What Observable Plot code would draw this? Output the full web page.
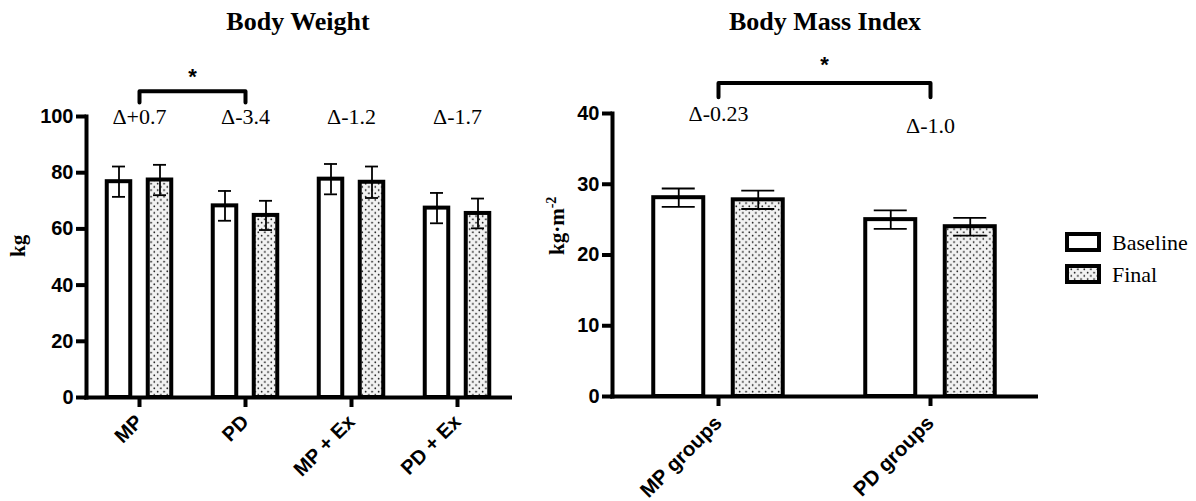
<!DOCTYPE html>
<html><head><meta charset="utf-8">
<script src="https://cdn.jsdelivr.net/npm/d3@7"></script>
<script src="https://cdn.jsdelivr.net/npm/@observablehq/plot@0.6"></script>
<style>
body{margin:0;background:#fff;}
#wrap{position:relative;width:1196px;height:501px;overflow:hidden;background:#fff;}
.panel{position:absolute;top:0;}
.title{position:absolute;font-family:"Liberation Serif","Times New Roman",serif;font-weight:bold;font-size:26px;transform:translateX(-50%);white-space:nowrap;line-height:1;}
.legend{position:absolute;left:1060px;top:226px;}
</style></head><body>
<svg width="0" height="0" style="position:absolute">
  <defs>
    <pattern id="dots" width="6.5" height="6.5" patternUnits="userSpaceOnUse">
      <rect width="6.5" height="6.5" fill="#f2f2f2"/>
      <circle cx="1.6" cy="1.6" r="0.85" fill="#111"/>
      <circle cx="4.85" cy="4.85" r="0.85" fill="#111"/>
    </pattern>
  </defs>
</svg>
<div id="wrap"></div>
<script>
// ---- Body Weight data ----
const bwGroups = ["MP", "PD", "MP + Ex", "PD + Ex"];
const bwBaseline = [76.8, 68.2, 77.7, 67.4];
const bwBaselineErr = [5.4, 5.3, 5.4, 5.4];
const bwFinal = [77.4, 64.8, 76.6, 65.5];
const bwFinalErr = [5.4, 5.2, 5.6, 5.3];
const bwDeltas = ["\u0394+0.7", "\u0394-3.4", "\u0394-1.2", "\u0394-1.7"];
const bwDeltaY = [100, 100, 100, 100];
const bwTicks = [0, 20, 40, 60, 80, 100];
const bwSig = ["MP", "PD"];
const bwSigY = [105, 109, 114];   // bracket leg end, bracket bar, asterisk

// ---- Body Mass Index data ----
const bmiGroups = ["MP groups", "PD groups"];
const bmiBaseline = [28.1, 25.0];
const bmiBaselineErr = [1.3, 1.3];
const bmiFinal = [27.8, 24.0];
const bmiFinalErr = [1.3, 1.25];
const bmiDeltas = ["\u0394-0.23", "\u0394-1.0"];
const bmiDeltaY = [40, 38.3];
const bmiTicks = [0, 10, 20, 30, 40];
const bmiSig = ["MP groups", "PD groups"];
const bmiSigY = [42.3, 44.3, 46.9];

const seriesNames = ["Baseline", "Final"];

const serif = "'Liberation Serif','Times New Roman',serif";
const sans = "'Liberation Sans',Arial,Helvetica,sans-serif";
const SW = 4;

function panel(o) {
  const n = o.groups.length;
  const bw = (o.width - o.marginLeft - o.marginRight) / n;
  const out = (bw - 2 * o.barW - o.gap) / 2;
  const dxB = out + o.barW / 2 - bw / 2;
  const dxF = -dxB;
  const rows = o.groups.map((g, i) => ({
    g, b: o.baseline[i], be: o.baselineErr[i], f: o.final[i], fe: o.finalErr[i],
    d: o.deltas[i], dy: o.deltaY[i]
  }));
  const [s0, s1] = o.sig;
  const br = [
    {g: s0, y: o.sigY[0]}, {g: s0, y: o.sigY[1]},
    {g: s1, y: o.sigY[1]}, {g: s1, y: o.sigY[0]}
  ];
  const span = (o.groups.indexOf(s1) - o.groups.indexOf(s0)) * bw;
  const capIn = (center, w) => ({insetLeft: center - w / 2, insetRight: bw - center - w / 2});
  const cB = out + o.barW / 2, cF = bw - cB;

  return Plot.plot({
    width: o.width, height: 501,
    marginLeft: o.marginLeft, marginRight: o.marginRight,
    marginTop: o.marginTop, marginBottom: o.marginBottom,
    style: {background: "transparent", overflow: "visible"},
    x: {domain: o.groups, padding: 0, axis: null},
    y: {domain: o.yDomain, nice: false, axis: null},
    marks: [
      Plot.barY(rows, {x: "g", y: "b", fill: "white", stroke: "black", strokeWidth: SW,
        insetLeft: out, insetRight: bw - out - o.barW}),
      Plot.barY(rows, {x: "g", y: "f", fill: "url(#dots)", stroke: "black", strokeWidth: SW,
        insetLeft: out + o.barW + o.gap, insetRight: out}),
      Plot.ruleX(rows, {x: "g", y1: d => d.b - d.be, y2: d => d.b + d.be, dx: dxB, strokeWidth: 1.8}),
      Plot.ruleX(rows, {x: "g", y1: d => d.f - d.fe, y2: d => d.f + d.fe, dx: dxF, strokeWidth: 1.8}),
      Plot.tickY(rows, {x: "g", y: d => d.b + d.be, strokeWidth: 1.8, ...capIn(cB, o.capW)}),
      Plot.tickY(rows, {x: "g", y: d => d.b - d.be, strokeWidth: 1.8, ...capIn(cB, o.capW)}),
      Plot.tickY(rows, {x: "g", y: d => d.f + d.fe, strokeWidth: 1.8, ...capIn(cF, o.capW)}),
      Plot.tickY(rows, {x: "g", y: d => d.f - d.fe, strokeWidth: 1.8, ...capIn(cF, o.capW)}),
      Plot.ruleY([o.yDomain[0]], {strokeWidth: SW, strokeLinecap: "square"}),
      Plot.frame({anchor: "left", strokeWidth: SW}),
      Plot.axisY({ticks: o.yTicks, tickSize: 10, tickPadding: 3, strokeWidth: SW,
        fontSize: 20, fontWeight: "bold", fontFamily: sans, label: null, tickFormat: d => String(d)}),
      Plot.axisX({tickSize: 10, tickPadding: o.xPad, tickRotate: -45, strokeWidth: SW,
        fontSize: o.xFont, fontWeight: "bold", fontFamily: sans, label: null}),
      Plot.text(rows, {x: "g", y: "dy", text: "d", fontFamily: serif, fontSize: 22}),
      Plot.line(br, {x: "g", y: "y", stroke: "black", strokeWidth: SW, curve: "linear"}),
      Plot.text([{g: s0, y: o.sigY[2]}], {x: "g", y: "y", text: () => "*", dx: span / 2,
        fontFamily: sans, fontWeight: "bold", fontSize: 22}),
      Plot.text([o.yLabel], {frameAnchor: "left", dx: -o.labelOffset, rotate: -90,
        fontFamily: serif, fontWeight: "bold", fontSize: 21})
    ]
  });
}

const wrap = document.getElementById("wrap");

const left = panel({
  groups: bwGroups, baseline: bwBaseline, baselineErr: bwBaselineErr,
  final: bwFinal, finalErr: bwFinalErr, deltas: bwDeltas, deltaY: bwDeltaY,
  yDomain: [0, 100], yTicks: bwTicks, yLabel: "kg", sig: bwSig, sigY: bwSigY,
  width: 530, marginLeft: 86, marginRight: 20, marginTop: 116, marginBottom: 104,
  barW: 23.5, gap: 17.5, capW: 13, labelOffset: 68, xFont: 20, xPad: 11
});
left.classList.add("panel");
left.style.left = "0px";
wrap.appendChild(left);

const right = panel({
  groups: bmiGroups, baseline: bmiBaseline, baselineErr: bmiBaselineErr,
  final: bmiFinal, finalErr: bmiFinalErr, deltas: bmiDeltas, deltaY: bmiDeltaY,
  yDomain: [0, 40], yTicks: bmiTicks, yLabel: "kg\u00b7m-2", sig: bmiSig, sigY: bmiSigY,
  width: 520, marginLeft: 82, marginRight: 14, marginTop: 113, marginBottom: 105,
  barW: 50, gap: 29.5, capW: 33, labelOffset: 55, xFont: 20.5, xPad: 13
});
right.classList.add("panel");
right.style.left = "530px";
wrap.appendChild(right);

// superscript on the BMI unit label
right.querySelectorAll("text").forEach(t => {
  if (t.textContent === "kg\u00b7m-2") {
    t.textContent = "kg\u00b7m";
    const ts = document.createElementNS("http://www.w3.org/2000/svg", "tspan");
    ts.setAttribute("dy", "-8");
    ts.setAttribute("font-size", "14");
    ts.textContent = "-2";
    t.appendChild(ts);
  }
});

// titles
[["Body Weight", 298], ["Body Mass Index", 825]].forEach(([txt, cx]) => {
  const d = document.createElement("div");
  d.className = "title";
  d.textContent = txt;
  d.style.left = cx + "px";
  d.style.top = "9px";
  wrap.appendChild(d);
});

// legend
const lg = d3.select(wrap).append("svg").attr("class", "legend").attr("width", 136).attr("height", 70);
seriesNames.forEach((name, i) => {
  const g = lg.append("g").attr("transform", `translate(0,${i * 32})`);
  g.append("rect").attr("x", 7).attr("y", 8).attr("width", 32).attr("height", 16)
    .attr("fill", i === 0 ? "white" : "url(#dots)").attr("stroke", "black").attr("stroke-width", 4);
  g.append("text").attr("x", 52).attr("y", 24).attr("font-family", serif).attr("font-size", 22)
    .attr("fill", "black").text(name);
});
</script>
</body></html>
